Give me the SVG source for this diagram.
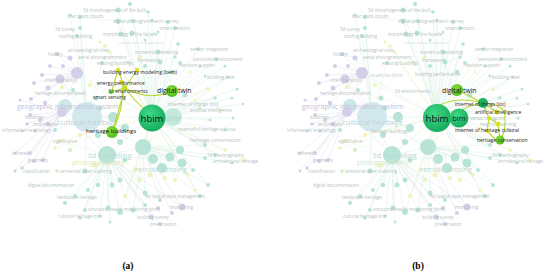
<svg xmlns="http://www.w3.org/2000/svg" xmlns:xlink="http://www.w3.org/1999/xlink" width="550" height="276" viewBox="0 0 550 276">
<style>
text{font-family:"Open Sans","DejaVu Sans",sans-serif}
.fl{font-size:4.5px;fill:#b4c2be}
.fv{font-size:4.3px;fill:#d3ddda}
.fp{fill:#c4c3d8}
.fm{fill:#b9dad1}
.dk{font-size:5px;fill:#1c1c1c}
.fd{font-size:5px;fill:#b4c2be}
.t{fill:#b8e4d8}.p{fill:#d2d0e8}.y{fill:#eef3b6}.g{fill:#d2efc4}
.lt{fill:none;stroke:#d2ece5;stroke-width:0.45}
.lp{fill:none;stroke:#dedcee;stroke-width:0.45}
.ly{fill:none;stroke:#eef2cf;stroke-width:0.45}
.hl{fill:none;stroke:#b9d630;stroke-width:1.1;stroke-linecap:round}
.cap{font-family:"Liberation Serif",serif;font-size:9.5px;font-weight:bold;fill:#000}
</style>
<defs>
<radialGradient id="gg" cx="0.4" cy="0.35" r="0.7"><stop offset="0" stop-color="#3fd986"/><stop offset="1" stop-color="#15a95c"/></radialGradient>
<radialGradient id="gl" cx="0.4" cy="0.35" r="0.7"><stop offset="0" stop-color="#86dd3a"/><stop offset="1" stop-color="#4dbb1a"/></radialGradient>
<g id="cloud">
<g id="cloud-lines">
<path class="lt" d="M152,117L118,10M152,117L130,4M152,117L148,12M152,117L118,21M152,117L133,21M152,117L152,20M152,117L168,22M152,117L175,28M152,117L158,32M152,117L121,34M152,117L132,33M152,117L145,40M152,117L178,44M152,117L158,52M152,117L175,57M152,117L160,62M152,117L180,63M152,117L198,49M152,117L216,59M152,117L200,66M152,117L225,66M152,117L145,66M152,117L172,72M152,117L205,76M152,117L228,77M152,117L237,89M152,117L215,98M152,117L232,98M152,117L243,104M152,117L185,95M152,117L233,118M152,117L210,120M152,117L225,130M152,117L205,145M152,117L215,155M152,117L232,163M152,117L208,185M152,117L200,196M152,117L193,170M152,117L87,117M152,117L107,155M152,117L143,147M152,117L173,117M152,117L77,73"/>
<path class="lt" d="M87,117L80,17M87,117L70,15M87,117L80,28M87,117L77,36M87,117L102,63M87,117L73,90M87,117L96,98M87,117L100,108M87,117L65,106M87,117L55,130M87,117L113,117M87,117L125,128M87,117L98,135M87,117L120,142M87,117L85,171M87,117L107,155M87,117L143,147M173,117L158,52M173,117L215,98M173,117L205,145M173,117L143,147M173,117L185,95M173,117L228,77M118,21L80,17M118,21L133,21M132,33L121,34M160,62L175,57"/>
<path class="lt" d="M107,155L120,180M107,155L112,185M107,155L98,185M107,155L88,190M107,155L75,196M107,155L65,203M107,155L85,210M107,155L80,218M107,155L100,216M107,155L108,208M107,155L120,212M107,155L133,210M107,155L145,205M107,155L160,200M107,155L145,193M107,155L110,222M107,155L125,160M107,155L143,147M107,155L153,159M143,147L170,157M143,147L180,150M143,147L182,163M143,147L162,168M143,147L205,158M143,147L215,155M143,147L193,170M143,147L208,185M143,147L120,212M143,147L133,210M143,147L145,193M143,147L160,200M143,147L200,196M143,147L232,163M143,147L205,145"/>
<path class="lp" d="M77,73L57,54M77,73L70,58M77,73L50,66M77,73L63,66M77,73L60,79M77,73L42,75M77,73L34,83M77,73L48,88M77,73L31,99M77,73L45,103M77,73L62,112M62,112L20,100M62,112L30,115M62,112L40,120M62,112L27,124M62,112L48,124M62,112L35,131M62,112L22,131M62,112L30,153M62,112L15,153M62,112L43,160M62,112L34,161M62,112L22,168M62,112L15,171M62,112L87,117M62,112L107,155M107,155L158,208M107,155L182,207M107,155L160,224M107,155L151,217M143,147L172,213M143,147L182,207M60,79L87,117M57,54L70,58"/>
<path class="ly" d="M152,117L105,46M152,117L100,42M152,117L110,52M152,117L140,57M152,117L190,72M152,117L208,89M152,117L195,100M152,117L220,110M152,117L195,128M152,117L62,87M152,117L90,85M152,117L80,135M152,117L60,141M152,117L55,148M152,117L95,165M152,117L135,170M152,117L140,180M152,117L150,175M152,117L165,178M152,117L175,180M152,117L188,175M152,117L225,150M152,117L245,160M152,117L125,196M152,117L195,190M107,155L140,180M107,155L150,175M107,155L60,141"/>
</g>
<g id="cloud-nodes">
<circle cx="87" cy="117" r="15" fill="#d3e8ec"/>
<circle cx="65" cy="106" r="7" fill="#cde6e8"/>
<circle class="t" cx="107" cy="155" r="9"/>
<circle class="t" cx="143" cy="147" r="8"/>
<circle class="t" cx="113" cy="117" r="5"/>
<circle class="t" cx="125" cy="128" r="4"/>
<circle class="p" cx="77" cy="73" r="6"/>
<circle class="p" cx="60" cy="79" r="4.5"/>
<circle class="p" cx="62" cy="112" r="5"/>
<circle class="t" cx="118" cy="10" r="2.5"/><circle class="t" cx="130" cy="4" r="2"/><circle class="t" cx="148" cy="12" r="1.8"/><circle class="t" cx="80" cy="17" r="2"/><circle class="t" cx="70" cy="15" r="1.5"/><circle class="t" cx="118" cy="21" r="2.5"/><circle class="t" cx="133" cy="21" r="2"/><circle class="t" cx="152" cy="20" r="1.5"/><circle class="t" cx="168" cy="22" r="2"/><circle class="t" cx="175" cy="28" r="2"/><circle class="t" cx="158" cy="32" r="1.5"/><circle class="t" cx="80" cy="28" r="2"/><circle class="t" cx="77" cy="36" r="2"/><circle class="t" cx="121" cy="34" r="2.5"/><circle class="t" cx="132" cy="33" r="2.5"/><circle class="t" cx="145" cy="40" r="1.5"/><circle class="t" cx="178" cy="44" r="1.8"/><circle class="y" cx="105" cy="46" r="1.8"/><circle class="y" cx="100" cy="42" r="1.5"/>
<circle class="p" cx="57" cy="54" r="2.2"/><circle class="p" cx="70" cy="58" r="2.5"/><circle class="p" cx="50" cy="66" r="2"/><circle class="p" cx="63" cy="66" r="2"/><circle class="t" cx="158" cy="52" r="2.5"/><circle class="t" cx="175" cy="57" r="1.8"/><circle class="t" cx="160" cy="62" r="2.5"/><circle class="t" cx="180" cy="63" r="2"/><circle class="t" cx="198" cy="49" r="1.8"/><circle class="t" cx="216" cy="59" r="2"/><circle class="t" cx="200" cy="66" r="1.5"/><circle class="t" cx="225" cy="66" r="1.5"/><circle class="y" cx="110" cy="52" r="1.6"/><circle class="y" cx="140" cy="57" r="1.8"/><circle class="t" cx="102" cy="63" r="2"/><circle class="g" cx="128" cy="62" r="1.8"/><circle class="t" cx="145" cy="66" r="2"/><circle class="t" cx="172" cy="72" r="2.2"/><circle class="y" cx="190" cy="72" r="1.5"/><circle class="t" cx="205" cy="76" r="1.5"/><circle class="t" cx="228" cy="77" r="1.5"/><circle class="t" cx="237" cy="89" r="1.5"/><circle class="y" cx="208" cy="89" r="1.8"/><circle class="t" cx="215" cy="98" r="1.8"/><circle class="t" cx="232" cy="98" r="1.5"/><circle class="t" cx="243" cy="104" r="1.3"/><circle class="y" cx="195" cy="100" r="1.6"/><circle class="t" cx="185" cy="95" r="2.5"/><circle class="g" cx="200" cy="108" r="1.8"/><circle class="y" cx="220" cy="110" r="1.6"/><circle class="t" cx="233" cy="118" r="1.5"/><circle class="t" cx="210" cy="120" r="1.5"/><circle class="y" cx="195" cy="128" r="1.6"/><circle class="t" cx="225" cy="130" r="1.5"/>
<circle class="p" cx="42" cy="75" r="2"/><circle class="p" cx="34" cy="83" r="2"/><circle class="p" cx="48" cy="88" r="2.5"/><circle class="y" cx="62" cy="87" r="2"/><circle class="t" cx="73" cy="90" r="2"/><circle class="p" cx="20" cy="100" r="1.5"/><circle class="p" cx="31" cy="99" r="2"/><circle class="p" cx="45" cy="103" r="2.2"/><circle class="p" cx="30" cy="115" r="2"/><circle class="p" cx="40" cy="120" r="2"/><circle class="p" cx="27" cy="124" r="1.8"/><circle class="p" cx="48" cy="124" r="2.5"/><circle class="p" cx="35" cy="131" r="1.8"/><circle class="t" cx="55" cy="130" r="2"/><circle class="p" cx="22" cy="131" r="1.3"/><circle class="t" cx="96" cy="98" r="2.5"/><circle class="y" cx="90" cy="85" r="2"/><circle class="t" cx="100" cy="108" r="2.5"/>
<circle class="t" cx="120" cy="142" r="3"/><circle class="t" cx="98" cy="135" r="3"/><circle class="y" cx="80" cy="135" r="2"/><circle class="y" cx="60" cy="141" r="2.2"/><circle class="y" cx="55" cy="148" r="1.8"/><circle class="g" cx="70" cy="150" r="2"/><circle class="p" cx="30" cy="153" r="2"/><circle class="p" cx="15" cy="153" r="1.5"/><circle class="p" cx="43" cy="160" r="2"/><circle class="p" cx="34" cy="161" r="2"/><circle class="p" cx="22" cy="168" r="1.8"/><circle class="p" cx="15" cy="171" r="1.5"/><circle class="g" cx="57" cy="171" r="1.8"/><circle class="t" cx="85" cy="171" r="2.5"/><circle class="y" cx="95" cy="165" r="2.5"/><circle class="t" cx="125" cy="160" r="2.5"/><circle class="t" cx="153" cy="159" r="5"/><circle class="t" cx="170" cy="157" r="4.5"/><circle class="t" cx="180" cy="150" r="4"/><circle class="t" cx="182" cy="163" r="4.5"/><circle class="t" cx="162" cy="168" r="5"/><circle class="y" cx="135" cy="170" r="2"/><circle class="y" cx="140" cy="180" r="2"/><circle class="y" cx="150" cy="175" r="2.5"/><circle class="y" cx="165" cy="178" r="2"/><circle class="y" cx="175" cy="180" r="2"/><circle class="y" cx="188" cy="175" r="1.8"/><circle class="t" cx="193" cy="170" r="2"/><circle class="t" cx="205" cy="158" r="2"/><circle class="t" cx="215" cy="155" r="2"/><circle class="t" cx="205" cy="145" r="2"/><circle class="y" cx="225" cy="150" r="1.8"/><circle class="t" cx="232" cy="163" r="1.6"/><circle class="y" cx="245" cy="160" r="1.8"/><circle class="t" cx="208" cy="185" r="2"/>
<circle class="t" cx="120" cy="180" r="2.5"/><circle class="t" cx="112" cy="185" r="2.5"/><circle class="t" cx="98" cy="185" r="2.3"/><circle class="t" cx="88" cy="190" r="2"/><circle class="t" cx="75" cy="196" r="2"/><circle class="t" cx="65" cy="203" r="2"/><circle class="t" cx="85" cy="210" r="2"/><circle class="t" cx="80" cy="218" r="1.8"/><circle class="t" cx="100" cy="216" r="1.6"/><circle class="t" cx="108" cy="208" r="2.5"/><circle class="t" cx="120" cy="212" r="3"/><circle class="t" cx="133" cy="210" r="2.5"/><circle class="t" cx="145" cy="205" r="2"/><circle class="t" cx="160" cy="200" r="2"/><circle class="t" cx="145" cy="193" r="2.5"/><circle class="y" cx="125" cy="196" r="2"/><circle class="p" cx="158" cy="208" r="2"/><circle class="p" cx="182" cy="207" r="3.5"/><circle class="p" cx="160" cy="224" r="2"/><circle class="p" cx="151" cy="217" r="2.5"/><circle class="p" cx="172" cy="213" r="2"/><circle class="t" cx="110" cy="222" r="1.5"/><circle class="t" cx="200" cy="196" r="2"/><circle class="y" cx="195" cy="190" r="1.5"/>
</g>
<g id="cloud-labels">
<text class="fl" x="83" y="11.5">3d morphogenesis of the built</text>
<text class="fl" x="67" y="17.5">lidar point clouds</text>
<text class="fl" x="113" y="22.5">digital photogrammetric survey</text>
<text class="fl" x="55" y="30.5">3d survey</text>
<text class="fl" x="160" y="29.5">smart sensors</text>
<text class="fl" x="59" y="37.5">roofing building</text>
<text class="fl" x="103" y="35.5">morphology of the façade</text>
<text class="fv" x="118" y="44">construction sequence</text>
<text class="fl" x="68" y="51.5">archaeological sites</text>
<text class="fl" x="135" y="53.5">numerical modelling</text>
<text class="fl" x="190" y="50.5">sensor integration</text>
<text class="fl" x="48" y="55.5">history</text>
<text class="fl" x="78" y="58.5">aerial photogrammetry</text>
<text class="fl" x="137" y="61.5">framework</text>
<text class="fl" x="193" y="60.5">persistent environment</text>
<text class="fl" x="97" y="64.5">existing buildings</text>
<text class="fl" x="180" y="66.5">decision support</text>
<text class="fl" x="207" y="78.5">building level</text>
<text class="fl" x="45" y="81.5">interoperability</text>
<text class="fl" x="35" y="94.5">heritage documentation</text>
<text class="fp" x="17" y="108.5" font-size="7">geographic information system</text>
<text class="fl" x="25" y="119">buildings</text>
<text class="fl" x="33" y="125.5">multimedia</text>
<text class="fl" x="2" y="131.5">information technology</text>
<text x="57" y="125" font-size="8" fill="#bfd3d8">cultural heritage</text>
<text class="fl" x="53" y="142.5">significance</text>
<text class="fm" x="87" y="158" font-size="7.7">3d modeling</text>
<text x="72" y="165" font-size="6.5" fill="#d6e9c2">photogrammetry</text>
<text class="fm" x="135" y="171.5" font-size="7.2">remote sensing</text>
<text class="fl" x="207" y="156.5">3d thermography</text>
<text class="fl" x="213" y="162.5">architectural heritage</text>
<text class="fl" x="12" y="154.5">infrared</text>
<text class="fl" x="28" y="161.5">geometry</text>
<text class="fl" x="23" y="172.5">classification</text>
<text class="fl" x="60" y="172.5">terrestrial laser scanning</text>
<text class="fl" x="28" y="186.5">digital documentation</text>
<text class="fl" x="57" y="198.5">landscape heritage</text>
<text class="fl" x="145" y="197.5">4d spatial data management</text>
<text class="fl" x="170" y="208.5">monitoring</text>
<text class="fl" x="88" y="210.5">structural health monitoring (shm)</text>
<text class="fl" x="58" y="217.5">cultural heritage bim</text>
<text class="fl" x="137" y="218.5">building survey</text>
<text class="fl" x="150" y="225.5">preservation</text>
</g>
</g>
</defs>
<rect width="550" height="276" fill="#fff"/>

<g id="panel-a">
<use xlink:href="#cloud" href="#cloud"/>
<g id="connectors-a">
<path class="hl" d="M125,88L118,70M125,88L137,70M125,88L121,82M125,88L111,92"/>
<path class="hl" d="M125,88Q148,101 170,92"/>
<path class="hl" d="M125,88Q137,104 146,110" stroke="#6fcb3c"/>
<path class="hl" d="M122,84Q124,112 112,130M125,88Q118,112 113,130" stroke="#a8d22e"/>
<path class="hl" d="M118,70L112,90" stroke-width="0.7"/>
</g>
<g id="a-bim"><circle cx="173" cy="117" r="9" fill="#c2e9db"/><text x="167" y="121" font-size="7.5" fill="#b0d3c9">bim</text></g>
<g id="a-hbim"><circle cx="152" cy="118" r="13.5" fill="url(#gg)"/><text x="152" y="121.5" text-anchor="middle" font-size="9.5" fill="#111">hbim</text></g>
<g id="a-bem"><circle cx="118" cy="70" r="2.2" fill="#e1e21b"/><circle cx="137" cy="70" r="2.2" fill="#e1e21b"/><text class="dk" x="103" y="73.5">building energy modeling (bem)</text></g>
<g id="a-energy"><circle cx="121" cy="82" r="2" fill="#dfe01e"/><text class="dk" x="97" y="85">energy performance</text></g>
<g id="a-3denv"><circle cx="125" cy="88" r="2.2" fill="#c6da22"/><text class="dk" x="108" y="92.5">3d environments</text></g>
<g id="a-smart"><circle cx="111" cy="92" r="2" fill="#4db82d"/><text class="dk" x="93" y="98.5" font-size="4">smart sensing</text></g>
<g id="a-dt"><circle cx="172" cy="91" r="6" fill="url(#gl)"/><text x="157" y="93" font-size="6.8" fill="#111">digital twin</text></g>
<g id="a-hb"><circle cx="112" cy="132" r="6" fill="url(#gl)"/><text x="86" y="133" font-size="6" fill="#111">heritage buildings</text></g>
<g id="a-faded">
<text class="fd" x="168" y="105.5">internet of things (iot)</text>
<text class="fl" x="190" y="111.5">artificial intelligence</text>
<text class="fl" x="178" y="131">internet of heritage cultural</text>
<text class="fd" x="190" y="142">heritage conservation</text>
</g>
<text class="cap" x="128" y="269" text-anchor="middle">(a)</text>
</g>

<g id="panel-b">
<use xlink:href="#cloud" href="#cloud" x="285"/>
<g id="b-faded">
<text x="370" y="77" font-size="6" fill="#bfcfca">scan-to-bim</text>
<text class="fl" x="415" y="76">building performance</text>
<text class="fl" x="395" y="92.5">3d environments</text>
<text class="fl" x="371" y="133">heritage buildings</text>
<text class="fl" x="470" y="119.5">sensor networks</text>
<text class="fl" x="480" y="125.5">machine learning</text>
</g>
<g id="connectors-b">
<path class="hl" d="M457,90L483,103"/>
<path class="hl" d="M440,105Q458,96 483,103"/>
<path class="hl" d="M462,110Q472,104 483,103"/>
<path class="hl" d="M483,103Q506,104 505,118Q506,132 500,140"/>
<path class="hl" d="M483,103L497,112M483,103L489,118L498,124M489,118L487,131M498,124L500,140M487,131L495,139"/>
</g>
<g id="b-hbim"><circle cx="437" cy="118" r="14" fill="url(#gg)"/><text x="437" y="121.5" text-anchor="middle" font-size="9.5" fill="#111">hbim</text></g>
<g id="b-bim"><circle cx="459" cy="118" r="9.5" fill="url(#gg)"/><text x="459" y="121" text-anchor="middle" font-size="7.5" fill="#111">bim</text></g>
<g id="b-dt"><circle cx="457" cy="90" r="6" fill="url(#gl)"/><text x="442" y="93" font-size="6.8" fill="#111">digital twin</text></g>
<g id="b-iot"><circle cx="483" cy="103" r="5" fill="#1fb060"/><text class="dk" x="455" y="106">internet of things (iot)</text></g>
<g id="b-ai"><circle cx="497" cy="112" r="2.5" fill="#d9df1e"/><text class="dk" x="475" y="113.5" font-size="4.7">artificial intelligence</text></g>
<g id="b-sn"><circle cx="489" cy="118" r="2" fill="#d9df1e"/></g>
<g id="b-ml"><circle cx="498" cy="124" r="2.5" fill="#dfe21c"/></g>
<g id="b-ihc"><circle cx="487" cy="131" r="2" fill="#dfe21c"/><text class="dk" x="455" y="132">internet of heritage cultural</text></g>
<g id="b-hc"><circle cx="500" cy="140" r="4.5" fill="url(#gl)"/><text class="dk" x="477" y="142">heritage conservation</text></g>
<text class="cap" x="418" y="269" text-anchor="middle">(b)</text>
</g>
</svg>
